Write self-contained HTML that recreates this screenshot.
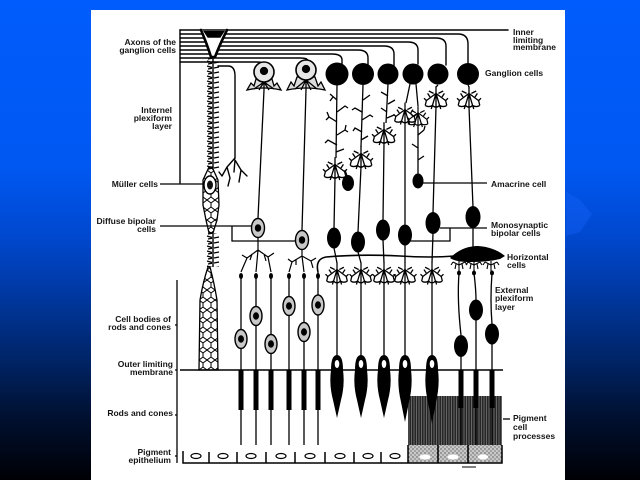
<!DOCTYPE html>
<html><head><meta charset="utf-8"><style>
html,body{margin:0;padding:0;width:640px;height:480px;overflow:hidden;background:#000}
svg{display:block}
text{font-family:"Liberation Sans",Arial,sans-serif;font-weight:bold;font-size:8.5px;fill:#151515}
</style></head><body>
<svg width="640" height="480" viewBox="0 0 640 480" xmlns="http://www.w3.org/2000/svg">
<defs>
<linearGradient id="bg" x1="0" y1="0" x2="0" y2="1">
<stop offset="0" stop-color="#005cfc"/>
<stop offset="0.35" stop-color="#0058f2"/>
<stop offset="0.5" stop-color="#0047cc"/>
<stop offset="0.62" stop-color="#00379e"/>
<stop offset="0.75" stop-color="#002466"/>
<stop offset="0.87" stop-color="#001030"/>
<stop offset="1" stop-color="#000005"/>
</linearGradient>
<pattern id="hatch" width="5" height="49" patternUnits="userSpaceOnUse" x="408" y="396">
<rect width="5" height="49" fill="#262626"/>
<path d="M1,0 V49 M3.4,0 V49" stroke="#9a9a9a" stroke-width="0.55"/>
</pattern>
<pattern id="stip" width="4" height="4" patternUnits="userSpaceOnUse">
<rect width="4" height="4" fill="#c8c8c8"/>
<circle cx="1" cy="1" r="0.65" fill="#333"/><circle cx="3" cy="3" r="0.6" fill="#444"/>
</pattern>
<pattern id="spine" width="14" height="5" patternUnits="userSpaceOnUse" x="206" y="60">
<path d="M7,0 V5 M1,1 L6,2.5 M8,3 L13,2 M2,4 L6,3.2" stroke="#000" stroke-width="1.4" fill="none"/>
</pattern>
<pattern id="mesh" width="8" height="10" patternUnits="userSpaceOnUse" x="199" y="270">
<path d="M0,0 L4,3 L4,7 L0,10 M4,3 L8,0 M4,7 L8,10" stroke="#000" stroke-width="1" fill="none"/>
</pattern>
<g id="tuft" fill="none" stroke="#000" stroke-width="1.1">
<path d="M0,-9 V-3 M0,-3 L-8,3 M0,-3 L-3,7 M0,-3 L3,7 M0,-3 L8,3 M-10,1 L-8,3 L-9,7 M10,1 L8,3 L9,7 M-9,7 Q-6,9 -3,7 Q0,10 3,7 Q6,9 9,7 M-3,7 L-4,10 M3,7 L4,10 M0,-3 V9 M-5,0 L-7,-3 M5,0 L7,-3 M-6,-5 L-2,-3 M6,-5 L2,-3"/>
</g>
<g id="crown" fill="none" stroke="#000" stroke-width="1.1">
<path d="M0,-6 V2 M0,-2 L-6,-5 M0,-2 L6,-5 M-6,-5 L-8,-2 M6,-5 L8,-2 M-3,-3 L-4,2 M3,-3 L4,2 M0,2 V6"/>
</g>
</defs>

<rect width="640" height="480" fill="url(#bg)"/>
<polygon points="566,192 580,200 592,214 580,232 566,236" fill="#1a66ff" opacity="0.35"/>
<rect x="91" y="10" width="474" height="470" fill="#ffffff"/>

<g fill="none" stroke="#000" stroke-width="1.4" stroke-linecap="round">
<!-- bundle -->
<path d="M180,30 H508" stroke-width="1.6"/>
<path d="M180,30 V183" stroke-width="1.4"/>
<path d="M180,34 H458 Q468,34 468,44 V63"/>
<path d="M180,38 H436 Q446,38 446,46 V65"/>
<path d="M180,42 H408 Q418,42 418,50 V64"/>
<path d="M180,46 H384 Q394,46 394,54 V66"/>
<path d="M180,50 H358 Q368,50 368,58 V65"/>
<path d="M180,54 H332 Q342,54 342,60 V65"/>
<path d="M180,58 H300 Q308,58 308,61"/>
<path d="M180,62 H256 Q263,62 263,63"/>
<path d="M218,66 H228 Q235,66 235,76 V158"/>
<path d="M235,158 L227,167 L222,176 M227,167 L230,178 M235,160 L241,170 L247,176 M241,170 L239,182 M235,160 L234,172 M222,176 L219,172 M230,178 L228,186"/>

<!-- Muller cell -->
<path d="M201,30 Q207,44 211,57 L215,57 Q220,44 227,30" stroke-width="2.6" fill="#fff"/>
<path d="M204,31 H224 L220,37 H208 Z" fill="#000"/>
</g>
<rect x="206" y="58" width="14" height="112" fill="url(#spine)"/>
<path d="M209,167 L203,180 L203,205 L206,220 L209,233 L213,233 L217,220 L219,205 L218,180 L212,167 Z" fill="url(#mesh)" stroke="#000" stroke-width="1.3"/>
<ellipse cx="210" cy="185" rx="6" ry="9" fill="#fff" stroke="#000" stroke-width="1.4"/>
<ellipse cx="210" cy="185" rx="3" ry="4.5" fill="#111"/>
<rect x="206" y="233" width="14" height="34" fill="url(#spine)"/>
<path d="M208,267 Q203,282 200,300 L199,370 L218,370 L217,300 Q214,282 210,267 Z" fill="url(#mesh)" stroke="#000" stroke-width="1.3"/>

<g fill="none" stroke="#000" stroke-width="1.3">
<!-- label lines -->
<path d="M160,184 H204"/>
<path d="M160,226 H252 M232,226 V241 H296"/>
<path d="M420,183 H487"/>
<path d="M440,228 H487 M450,228 V241 H408"/>
<path d="M503,419 H510"/>
<!-- outer limiting membrane -->
<path d="M180,370 H503" stroke-width="1.5"/>
<!-- lower bracket -->
<path d="M177,280 V463 M177,325 l-2,0 M177,370 l-2,0 M177,415 l-2,0 M177,456 l-2,0"/>
</g>

<!-- light ganglion cells -->
<g stroke="#000" stroke-width="1.3">
<path d="M247,90 L251,83 L254,86 L256,79 L272,79 L274,86 L277,83 L281,90 Q264,86 247,90 Z" fill="#ddd"/>
<path d="M264,82 L254,89 M264,82 L259,90 M264,82 L264,90 M264,82 L269,90 M264,82 L274,89" fill="none"/>
<circle cx="264" cy="72" r="10" fill="#e6e6e6" stroke-width="1.6"/>
<circle cx="264" cy="71" r="3.5" fill="#000"/>
<path d="M287,90 L291,82 L294,86 L297,77 L315,77 L318,86 L321,82 L325,90 Q306,86 287,90 Z" fill="#ddd"/>
<path d="M306,80 L295,89 M306,80 L301,90 M306,80 L306,90 M306,80 L311,90 M306,80 L317,89" fill="none"/>
<circle cx="306" cy="70" r="10" fill="#e6e6e6" stroke-width="1.6"/>
<circle cx="306" cy="69" r="3.5" fill="#000"/>
<path d="M264,90 L258,218 M306,90 L302,230" fill="none"/>
</g>

<!-- diffuse bipolar cells -->
<g stroke="#000" stroke-width="1.4">
<ellipse cx="258" cy="228" rx="6.5" ry="9.5" fill="#c8c8c8"/>
<ellipse cx="258" cy="228" rx="2.5" ry="3" fill="#000"/>
<ellipse cx="302" cy="240" rx="6.5" ry="9.5" fill="#c8c8c8"/>
<ellipse cx="302" cy="240" rx="2.5" ry="3" fill="#000"/>
<path fill="none" stroke-width="1.2" d="M258,238 V250 M258,250 L247,258 L241,272 M258,250 L256,272 M258,250 L268,257 L271,272 M247,258 L242,255 M268,257 L274,253 M252,254 L250,260 M264,254 L266,261 M302,250 V256 M302,256 L292,262 L289,272 M302,256 L304,272 M302,256 L311,261 L313,268 M292,262 L288,259 M311,261 L316,258 M296,259 L296,265"/>
</g>

<!-- horizontal cell -->
<path d="M318,272 Q315,259 326,257 Q360,254 400,256 Q430,258 455,256" fill="none" stroke="#000" stroke-width="1.6"/>
<path d="M450,258 Q462,246 478,246 Q494,247 505,256 L500,259 Q488,262 470,262 Q456,262 450,258 Z" fill="#000"/>
<use href="#crown" x="459" y="267"/>
<use href="#crown" x="474" y="267"/>
<use href="#crown" x="491" y="267"/>

<!-- ganglion cells -->
<g fill="#000">
<circle cx="337" cy="74" r="11.5"/>
<circle cx="363" cy="74" r="11"/>
<circle cx="388" cy="74" r="10.5"/>
<circle cx="413" cy="74" r="10.5"/>
<circle cx="438" cy="74" r="10.5"/>
<circle cx="468" cy="74" r="11"/>
</g>

<!-- ganglion dendrites -->
<g fill="none" stroke="#000" stroke-width="1.3">
<path d="M337,85 L336,158 M335,178 L334,228"/>
<path d="M337,100 L330,94 M333,97 L330,101 M337,112 L345,106 L348,108 M337,122 L329,117 L326,120 M337,135 L345,130 L348,132 M337,145 L328,140 L325,143 M336,152 L344,149 M329,117 L327,112 M345,130 L346,125"/>
<path d="M363,85 L361,147 M361,167 L358,232"/>
<path d="M363,100 L370,95 M362,112 L355,108 L352,110 M362,120 L370,115 L373,117 M362,132 L355,128 L353,131 M361,140 L368,136"/>
<path d="M388,84 L386,123 M384,143 L383,220"/>
<path d="M388,96 L381,92 M388,104 L395,100 M387,112 L381,108 M387,118 L394,115"/>
<path d="M410,84 L406,103 M405,123 L405,225"/>
<path d="M416,84 L418,106 M418,126 L418,174 M418,135 L424,130 M418,148 L412,144 M418,160 L424,156 M424,130 L425,126"/>
<path d="M438,85 L436,87 M436,107 L433,213"/>
<path d="M468,85 L469,87 M469,107 L473,207 M473,228 L473,248"/>
<path d="M347,176 L345,170"/>
</g>
<use href="#tuft" transform="translate(335,168) scale(1.2)"/>
<use href="#tuft" transform="translate(361,157) scale(1.2)"/>
<use href="#tuft" transform="translate(384,133) scale(1.2)"/>
<use href="#tuft" transform="translate(405,113) scale(1.15)"/>
<use href="#tuft" transform="translate(418,116) scale(1.1)"/>
<use href="#tuft" transform="translate(436,97) scale(1.2)"/>
<use href="#tuft" transform="translate(469,97) scale(1.2)"/>

<!-- amacrine -->
<ellipse cx="348" cy="183" rx="6" ry="8" fill="#000"/>
<ellipse cx="418" cy="181" rx="5.5" ry="7.5" fill="#000"/>

<!-- monosynaptic bipolar -->
<g fill="#000">
<ellipse cx="334" cy="238" rx="7" ry="10.5"/>
<ellipse cx="358" cy="242" rx="7" ry="10.5"/>
<ellipse cx="383" cy="230" rx="7" ry="10.5"/>
<ellipse cx="405" cy="235" rx="7" ry="10.5"/>
<ellipse cx="433" cy="223" rx="7.5" ry="11"/>
<ellipse cx="473" cy="217" rx="7.5" ry="11"/>
</g>
<g fill="none" stroke="#000" stroke-width="1.3">
<path d="M334,248 L337,263 M358,252 L361,263 M383,240 L384,263 M405,245 L405,263 M433,233 L432,263"/>
<path d="M337,283 V357 M361,283 V357 M384,283 V357 M405,283 V357 M432,283 V357"/>
</g>
<use href="#tuft" transform="translate(337,273) scale(1.15)"/>
<use href="#tuft" transform="translate(361,273) scale(1.15)"/>
<use href="#tuft" transform="translate(384,273) scale(1.15)"/>
<use href="#tuft" transform="translate(405,273) scale(1.15)"/>
<use href="#tuft" transform="translate(432,273) scale(1.15)"/>

<!-- pigment processes box -->
<rect x="408" y="396" width="94" height="49" fill="url(#hatch)"/>
<rect x="408" y="445" width="94" height="18" fill="url(#stip)"/>

<!-- cones -->
<g fill="#000">
<path d="M331,370 Q331,355 337,355 Q343,355 343,370 Q345,385 341,400 L337,418 L333,400 Q329,385 331,370 Z"/>
<path d="M355,370 Q355,355 361,355 Q367,355 367,370 Q369,385 365,400 L361,418 L357,400 Q353,385 355,370 Z"/>
<path d="M378,370 Q378,355 384,355 Q390,355 390,370 Q392,385 388,400 L384,418 L380,400 Q376,385 378,370 Z"/>
<path d="M399,370 Q399,355 405,355 Q411,355 411,370 Q413,385 409,402 L405,422 L401,402 Q397,385 399,370 Z"/>
<path d="M426,370 Q426,355 432,355 Q438,355 438,370 Q440,385 436,402 L432,424 L428,402 Q424,385 426,370 Z"/>
</g>
<g fill="#fff">
<ellipse cx="337" cy="364" rx="2.3" ry="4"/>
<ellipse cx="361" cy="364" rx="2.3" ry="4"/>
<ellipse cx="384" cy="364" rx="2.3" ry="4"/>
<ellipse cx="405" cy="364" rx="2.3" ry="4"/>
<ellipse cx="432" cy="364" rx="2.3" ry="4"/>
</g>

<!-- rods left group -->
<g stroke="#000" stroke-width="1.3" fill="none">
<path d="M241,276 V445 M256,276 V445 M271,276 V445 M289,276 V445 M304,276 V445 M318,272 V445"/>
</g>
<g fill="#000">
<ellipse cx="241" cy="276" rx="2" ry="3"/><ellipse cx="256" cy="276" rx="2" ry="3"/><ellipse cx="271" cy="276" rx="2" ry="3"/>
<ellipse cx="289" cy="276" rx="2" ry="3"/><ellipse cx="304" cy="276" rx="2" ry="3"/><ellipse cx="318" cy="276" rx="2" ry="3"/>
<rect x="238.5" y="370" width="5" height="40"/><rect x="253.5" y="370" width="5" height="40"/><rect x="268.5" y="370" width="5" height="40"/>
<rect x="286.5" y="370" width="5" height="40"/><rect x="301.5" y="370" width="5" height="40"/><rect x="315.5" y="370" width="5" height="40"/>
</g>
<g stroke="#000" stroke-width="1.4">
<ellipse cx="241" cy="339" rx="6" ry="9.5" fill="#c8c8c8"/><ellipse cx="241" cy="339" rx="2.3" ry="3" fill="#000"/>
<ellipse cx="256" cy="316" rx="6" ry="9.5" fill="#c8c8c8"/><ellipse cx="256" cy="316" rx="2.3" ry="3" fill="#000"/>
<ellipse cx="271" cy="344" rx="6" ry="9.5" fill="#c8c8c8"/><ellipse cx="271" cy="344" rx="2.3" ry="3" fill="#000"/>
<ellipse cx="289" cy="306" rx="6" ry="9.5" fill="#c8c8c8"/><ellipse cx="289" cy="306" rx="2.3" ry="3" fill="#000"/>
<ellipse cx="304" cy="332" rx="6" ry="9.5" fill="#c8c8c8"/><ellipse cx="304" cy="332" rx="2.3" ry="3" fill="#000"/>
<ellipse cx="318" cy="305" rx="6" ry="10" fill="#c8c8c8"/><ellipse cx="318" cy="305" rx="2.3" ry="3" fill="#000"/>
</g>

<!-- right group -->
<g stroke="#000" stroke-width="1.3" fill="none">
<path d="M459,273 Q457,300 461,335 M474,273 Q476,290 476,300 M492,273 Q490,300 492,324"/>
<path d="M461,356 V445 M476,320 V445 M492,344 V445"/>
</g>
<g fill="#000">
<ellipse cx="459" cy="273" rx="2" ry="2.5"/><ellipse cx="474" cy="273" rx="2" ry="2.5"/><ellipse cx="492" cy="273" rx="2" ry="2.5"/>
<ellipse cx="461" cy="346" rx="7" ry="11"/>
<ellipse cx="476" cy="310" rx="7" ry="10.5"/>
<ellipse cx="492" cy="334" rx="7" ry="10.5"/>
<rect x="458.5" y="370" width="5" height="38"/><rect x="473.5" y="370" width="5" height="38"/><rect x="489.5" y="370" width="5" height="38"/>
</g>

<!-- pigment epithelium -->
<g fill="none" stroke="#000" stroke-width="1.5">
<path d="M183,451 V463 H502 V445"/>
<path d="M209,452 V463 M237,452 V463 M266,452 V463 M295,452 V463 M325,452 V463 M354,452 V463 M381,452 V463 M408,445 V463 M438,445 V463 M468,445 V463"/>
<path d="M462,467 h14" stroke-width="1"/>
</g>
<g fill="#fff" stroke="#000" stroke-width="1.2">
<ellipse cx="196" cy="456" rx="5" ry="2.5"/><ellipse cx="223" cy="456" rx="5" ry="2.5"/>
<ellipse cx="251" cy="456" rx="5" ry="2.5"/><ellipse cx="281" cy="456" rx="5" ry="2.5"/>
<ellipse cx="310" cy="456" rx="5" ry="2.5"/><ellipse cx="340" cy="456" rx="5" ry="2.5"/>
<ellipse cx="368" cy="456" rx="5" ry="2.5"/><ellipse cx="395" cy="456" rx="5" ry="2.5"/>
<ellipse cx="425" cy="457" rx="5.5" ry="2.5" stroke="none"/><ellipse cx="453" cy="457" rx="5.5" ry="2.5" stroke="none"/>
<ellipse cx="483" cy="457" rx="5.5" ry="2.5" stroke="none"/>
</g>

<!-- left labels -->
<g text-anchor="end">
<text x="176" y="45">Axons of the</text>
<text x="176" y="53">ganglion cells</text>
<text x="172" y="113">Internel</text>
<text x="172" y="121">plexiform</text>
<text x="172" y="129">layer</text>
<text x="158" y="187">Müller cells</text>
<text x="156" y="224">Diffuse bipolar</text>
<text x="156" y="232">cells</text>
<text x="171" y="322">Cell bodies of</text>
<text x="171" y="330">rods and cones</text>
<text x="173" y="367">Outer limiting</text>
<text x="173" y="375">membrane</text>
<text x="173" y="416">Rods and cones</text>
<text x="171" y="455">Pigment</text>
<text x="171" y="463">epithelium</text>
</g>
<!-- right labels -->
<g>
<text x="513" y="35">Inner</text>
<text x="513" y="43">limiting</text>
<text x="513" y="50">membrane</text>
<text x="485" y="76">Ganglion cells</text>
<text x="491" y="187">Amacrine cell</text>
<text x="491" y="228">Monosynaptic</text>
<text x="491" y="236">bipolar cells</text>
<text x="507" y="260">Horizontal</text>
<text x="507" y="268">cells</text>
<text x="495" y="293">External</text>
<text x="495" y="301">plexiform</text>
<text x="495" y="310">layer</text>
<text x="513" y="421">Pigment</text>
<text x="513" y="430">cell</text>
<text x="513" y="439">processes</text>
</g>
</svg>
</body></html>
